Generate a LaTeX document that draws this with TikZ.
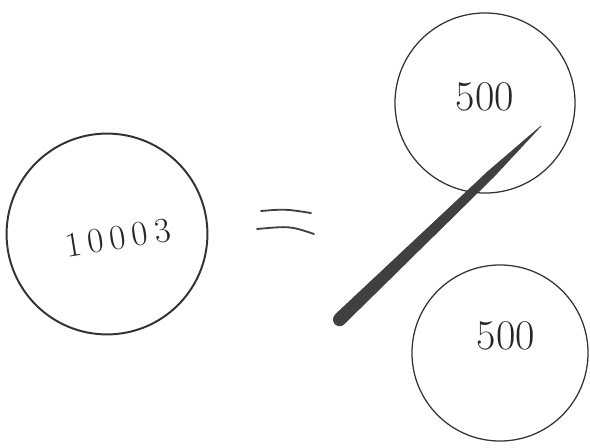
\documentclass[tikz,border=0pt]{standalone}
\usepackage{tikz}
\usetikzlibrary{positioning}

\begin{document}
\begin{tikzpicture}[
    x=0.025cm, y=-0.025cm,
    coin/.style={draw=black!80, circle, line width=0.9pt, inner sep=0pt},
    amount/.style={font=\fontsize{30}{34}\selectfont, text=black!85},
    bar/.style={line width=1.3pt, black!75, line cap=round},
    slash/.style={fill=black!75, draw=black!75, line width=0.5pt}
]
\useasboundingbox (0,0) rectangle (590,447);
% whole coin on the left
\node[coin, line width=1.4pt, minimum size=5.02cm] (whole) at (107,234) {};
\node[amount, font=\fontsize{25}{28}\selectfont, rotate=9] (wholeval) at (118,238)
    {1\kern4.5pt0\kern4.5pt0\kern4.5pt0\kern4.5pt3};
% the two halves
\node[coin, minimum size=4.5cm] (tophalf) at (485,103) {};
\node[amount] (topval) at (485,97) {500};
\node[coin, minimum size=4.4cm] (bothalf) at (500,353) {};
\node[amount] (botval) at (506,336) {500};
% equals sign
\draw[bar] (261,211) .. controls (285,209) .. (311,213);
\draw[bar] (257,229) .. controls (290,226) .. (314,234);
% the cut
\coordinate (tip) at (541,126);
\fill[slash] (tip) -- (493.5,177) -- (344.5,323.5)
    .. controls (339,330) and (329,322) .. (335.5,314.5)
    -- (488,171.5) -- cycle;
\end{tikzpicture}
\end{document}
